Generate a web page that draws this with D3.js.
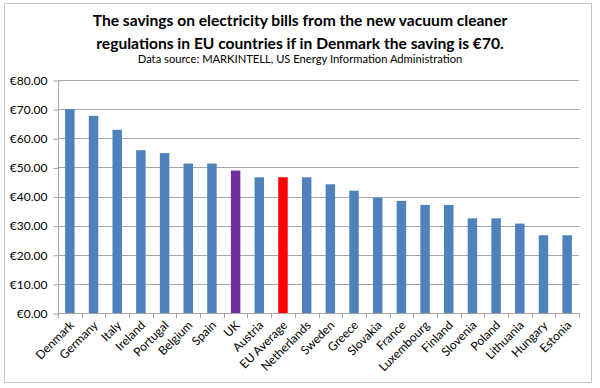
<!DOCTYPE html>
<html>
<head>
<meta charset="utf-8">
<script src="https://cdn.jsdelivr.net/npm/d3@7"></script>
<style>
  body { margin: 0; background: #fff; }
  text { font-family: Lato, "Open Sans", sans-serif; fill: #000; }
</style>
</head>
<body>
<div id="chart"></div>
<script>
// Chart data
var countries = ["Denmark", "Germany", "Italy", "Ireland", "Portugal", "Belgium", "Spain", "UK",
  "Austria", "EU Average", "Netherlands", "Sweden", "Greece", "Slovakia", "France", "Luxembourg",
  "Finland", "Slovenia", "Poland", "Lithuania", "Hungary", "Estonia"];
var savings = [70, 67.7, 62.9, 55.9, 54.9, 51.3, 51.3, 48.9,
  46.6, 46.6, 46.6, 44.2, 42.0, 39.6, 38.5, 37.1,
  37.1, 32.5, 32.5, 30.7, 26.7, 26.7];
var yTicks = [0, 10, 20, 30, 40, 50, 60, 70, 80];

var width = 600;
var height = 388;

var svg = d3.select("#chart")
    .append("svg")
    .attr("width", width)
    .attr("height", height);

// outer frame
svg.append("rect")
    .attr("x", 4.5).attr("y", 3.5)
    .attr("width", 587).attr("height", 379)
    .attr("fill", "#fff")
    .attr("stroke", "#c8c8c8");

// titles
svg.append("text")
    .attr("x", 300).attr("y", 26)
    .attr("text-anchor", "middle")
    .attr("font-size", 15.6).attr("font-weight", "bold")
    .text("The savings on electricity bills from the new vacuum cleaner");
svg.append("text")
    .attr("x", 300).attr("y", 49)
    .attr("text-anchor", "middle")
    .attr("font-size", 15.6).attr("font-weight", "bold")
    .text("regulations in EU countries if in Denmark the saving is €70.");
svg.append("text")
    .attr("x", 300).attr("y", 62.5)
    .attr("text-anchor", "middle")
    .attr("font-size", 11.2)
    .text("Data source: MARKINTELL, US Energy Information Administration");

// plot area
var plotL = 58, plotR = 579, plotT = 80, plotB = 313;

var xScale = d3.scaleBand()
    .domain(countries)
    .range([plotL, plotR])
    .paddingInner(0.6)
    .paddingOuter(0.3);

var yScale = d3.scaleLinear()
    .domain([0, 80])
    .range([plotB, plotT]);

// gridlines
svg.append("g")
    .selectAll("line")
    .data(yTicks.slice(1))
    .enter()
    .append("line")
    .attr("x1", plotL).attr("x2", plotR)
    .attr("y1", function(d) { return Math.round(yScale(d)) + 0.5; })
    .attr("y2", function(d) { return Math.round(yScale(d)) + 0.5; })
    .attr("stroke", "#a6a6a6");

// bars
svg.append("g")
    .selectAll("rect")
    .data(savings)
    .enter()
    .append("rect")
    .attr("x", function(d, i) { return xScale(countries[i]); })
    .attr("y", function(d) { return yScale(d); })
    .attr("width", xScale.bandwidth())
    .attr("height", function(d) { return plotB - yScale(d); })
    .attr("fill", function(d, i) {
      if (countries[i] == "UK") return "#7030a0";
      if (countries[i] == "EU Average") return "#ff0000";
      return "#4f81bd";
    });

// y axis
var yAxis = d3.axisLeft(yScale)
    .tickValues(yTicks)
    .tickSize(5)
    .tickPadding(6)
    .tickFormat(function(d) { return "€" + d3.format(".2f")(d); });

var yG = svg.append("g")
    .attr("transform", "translate(" + (plotL + 0.5) + ",0.5)")
    .call(yAxis);
yG.selectAll("path, line").attr("stroke", "#a6a6a6");
yG.select(".domain").attr("d", "M0," + (plotT - 0.5) + "V" + plotB);
yG.selectAll("text")
    .attr("font-size", 12)
    .attr("font-family", "Lato, sans-serif")
    .attr("fill", "#000");

// x axis with ticks at band edges
var step = xScale.step();
var edges = d3.range(countries.length + 1).map(function(i) { return plotL + i * step; });
var xG = svg.append("g");
xG.append("line")
    .attr("x1", plotL).attr("x2", plotR)
    .attr("y1", plotB + 0.5).attr("y2", plotB + 0.5)
    .attr("stroke", "#a6a6a6");
xG.selectAll(".tk")
    .data(edges)
    .enter()
    .append("line")
    .attr("class", "tk")
    .attr("x1", function(d) { return Math.round(d) + 0.5; })
    .attr("x2", function(d) { return Math.round(d) + 0.5; })
    .attr("y1", plotB).attr("y2", plotB + 5)
    .attr("stroke", "#a6a6a6");

xG.selectAll(".lbl")
    .data(countries)
    .enter()
    .append("text")
    .attr("class", "lbl")
    .attr("text-anchor", "end")
    .attr("font-size", 12)
    .attr("transform", function(d) {
      var cx = xScale(d) + xScale.bandwidth() / 2 + 5;
      return "translate(" + cx + "," + (plotB + 13) + ")rotate(-45)";
    })
    .text(function(d) { return d; });
</script>
</body>
</html>
